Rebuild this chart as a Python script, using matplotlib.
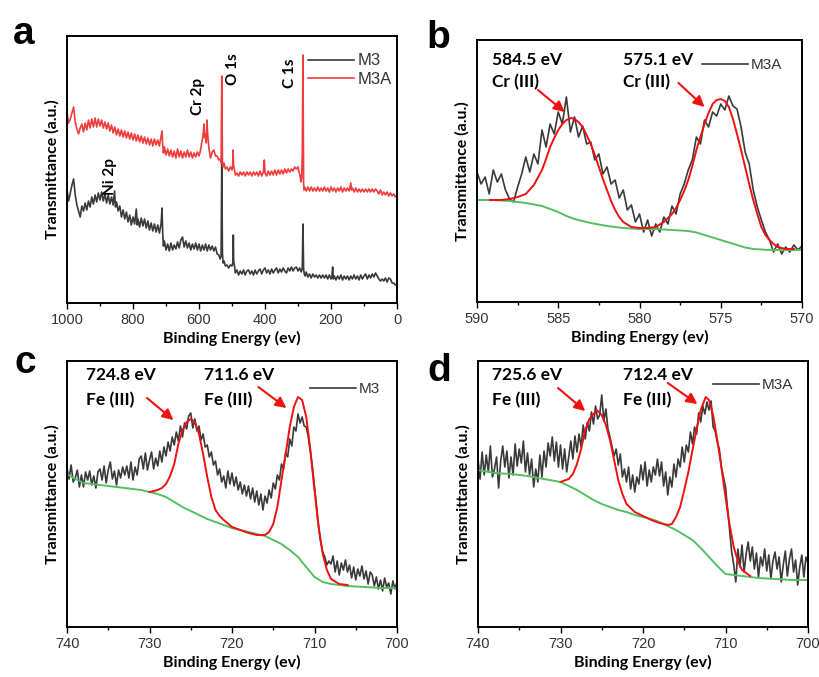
import numpy as np
import matplotlib.pyplot as plt
from matplotlib.lines import Line2D

plt.rcParams['font.family'] = ['Liberation Sans', 'DejaVu Sans']

GREY = '#3a3a3a'
RED = '#f03c3c'
FIT_RED = '#f01010'
GREEN = '#52c062'
BOLD = ['Lato', 'DejaVu Sans']

# ---------------- panel a : survey spectra (energy eV, signal a.u.)
a_m3 = [(1000, 113), (995, 102), (990, 110), (985, 118), (980, 124), (975, 108), (970, 98), (965, 92),
        (960, 86), (955, 97), (950, 92), (945, 100), (940, 93), (935, 102), (930, 96), (925, 106),
        (920, 99), (915, 108), (910, 101), (905, 110), (900, 103), (895, 111), (890, 102), (885, 109),
        (880, 100), (875, 108), (870, 99), (865, 106), (860, 98), (856, 112), (853, 96), (850, 101),
        (845, 92), (840, 97), (835, 86), (830, 93), (825, 84), (820, 91), (815, 81), (810, 88),
        (805, 78), (800, 86), (795, 79), (790, 94), (787, 78), (785, 84), (780, 76), (775, 85),
        (770, 77), (765, 84), (760, 75), (755, 82), (750, 73), (745, 80), (740, 72), (735, 79),
        (730, 71), (725, 78), (720, 70), (715, 79), (712, 95), (710, 70), (708, 57), (705, 62),
        (700, 53), (695, 59), (690, 52), (685, 60), (680, 53), (675, 58), (670, 54), (665, 61),
        (660, 55), (655, 63), (650, 66), (645, 56), (640, 62), (635, 55), (630, 60), (625, 53),
        (620, 59), (615, 54), (610, 60), (605, 53), (600, 59), (595, 52), (590, 58), (585, 53),
        (580, 59), (575, 52), (570, 58), (565, 53), (560, 57), (555, 52), (550, 56), (545, 49),
        (540, 48), (536, 44), (533, 47), (531, 143), (529, 50), (527, 40), (524, 42), (520, 37),
        (515, 38), (510, 35), (505, 38), (500, 37), (497, 41), (496, 68), (495, 42), (492, 36),
        (490, 30), (485, 33), (480, 28), (475, 32), (470, 29), (465, 33), (460, 28), (455, 32),
        (450, 33), (445, 29), (440, 32), (435, 28), (430, 33), (425, 29), (420, 32), (415, 34),
        (410, 29), (405, 33), (400, 35), (395, 30), (390, 33), (385, 29), (380, 34), (375, 30),
        (370, 33), (365, 35), (360, 30), (355, 34), (350, 31), (345, 35), (340, 32), (335, 30),
        (330, 35), (325, 32), (320, 36), (315, 32), (310, 35), (305, 36), (300, 32), (295, 35),
        (290, 31), (287, 35), (285, 79), (283, 34), (281, 29), (278, 27), (275, 31), (270, 26),
        (265, 29), (260, 25), (255, 29), (250, 26), (245, 28), (240, 25), (235, 28), (230, 25),
        (225, 28), (220, 25), (215, 28), (210, 24), (205, 28), (200, 24), (197, 27), (195, 36),
        (193, 24), (190, 27), (185, 23), (180, 27), (175, 24), (170, 28), (165, 23), (160, 27),
        (155, 24), (150, 27), (145, 23), (140, 27), (135, 24), (130, 28), (125, 24), (120, 27),
        (115, 23), (110, 28), (105, 24), (100, 27), (95, 29), (90, 24), (85, 28), (80, 25),
        (75, 29), (70, 26), (65, 30), (60, 27), (55, 24), (50, 22), (45, 24), (40, 22),
        (35, 25), (30, 21), (25, 25), (20, 24), (15, 20), (10, 20), (5, 18), (0, 19)]

a_m3a = [(1000, 190), (995, 180), (990, 184), (985, 190), (980, 196), (975, 181), (970, 174), (965, 169),
         (960, 175), (955, 179), (950, 171), (945, 180), (940, 173), (935, 183), (930, 175), (925, 184),
         (920, 176), (915, 185), (910, 176), (905, 184), (900, 177), (895, 183), (890, 175), (885, 181),
         (880, 174), (875, 180), (870, 172), (865, 178), (860, 170), (855, 176), (850, 168), (845, 174),
         (840, 167), (835, 173), (830, 166), (825, 172), (820, 165), (815, 171), (810, 164), (805, 170),
         (800, 163), (795, 169), (790, 162), (785, 168), (780, 161), (775, 167), (770, 160), (765, 166),
         (760, 159), (755, 165), (750, 158), (745, 164), (740, 157), (735, 164), (730, 158), (725, 163),
         (720, 157), (715, 166), (712, 172), (710, 158), (708, 150), (705, 156), (700, 148), (695, 154),
         (690, 147), (685, 153), (680, 146), (675, 152), (670, 145), (665, 154), (660, 146), (655, 152),
         (650, 145), (645, 151), (640, 146), (635, 153), (630, 146), (625, 151), (620, 145), (615, 150),
         (610, 146), (605, 151), (600, 147), (595, 153), (592, 160), (590, 163), (587, 170), (585, 179),
         (583, 165), (580, 169), (578, 160), (576, 183), (574, 170), (572, 163), (570, 155), (567, 149),
         (565, 145), (560, 151), (555, 153), (550, 147), (545, 147), (540, 143), (535, 144), (533, 140),
         (531, 227), (529, 141), (527, 136), (524, 140), (520, 134), (515, 136), (510, 132), (505, 136),
         (500, 133), (498, 138), (497, 153), (495, 137), (493, 134), (490, 128), (485, 130), (480, 127),
         (475, 131), (470, 128), (465, 131), (460, 127), (455, 131), (450, 128), (445, 131), (440, 127),
         (435, 131), (430, 128), (425, 131), (420, 127), (415, 132), (410, 127), (405, 131), (402, 143),
         (400, 130), (395, 127), (390, 132), (385, 128), (380, 132), (375, 128), (370, 133), (365, 128),
         (360, 133), (355, 129), (350, 133), (345, 129), (340, 134), (335, 130), (330, 134), (325, 131),
         (320, 134), (315, 132), (310, 136), (305, 134), (300, 136), (297, 131), (294, 128), (291, 121),
         (289, 125), (287, 149), (285, 248), (283, 120), (282, 113), (280, 116), (275, 112), (270, 116),
         (265, 112), (260, 116), (255, 112), (250, 115), (245, 112), (240, 116), (235, 112), (230, 115),
         (225, 112), (220, 116), (215, 112), (210, 115), (205, 111), (200, 116), (195, 112), (190, 115),
         (185, 111), (180, 115), (175, 112), (170, 116), (165, 111), (160, 115), (155, 112), (150, 115),
         (145, 112), (140, 120), (138, 113), (135, 115), (130, 111), (125, 115), (120, 111), (115, 114),
         (110, 111), (105, 114), (100, 111), (95, 114), (90, 111), (85, 114), (80, 111), (75, 114),
         (70, 111), (65, 114), (60, 112), (55, 109), (50, 113), (45, 108), (40, 111), (35, 108),
         (30, 111), (25, 107), (20, 110), (15, 107), (10, 109), (5, 106), (0, 108)]

a_peaks = [('Ni 2p', 870, 108), ('Cr 2p', 603, 188), ('O 1s', 497, 218), ('C 1s', 324, 215)]

# ---------------- panel b : Cr 2p (M3A), 590 -> 570 eV, step 0.25
b_e = np.linspace(590, 570, 81)
b_m3a = [130, 118, 125, 108, 132, 120, 128, 112, 103, 100, 115, 128, 145, 130, 148, 138,
         172, 155, 178, 168, 190, 178, 205, 170, 185, 165, 176, 158, 160, 142, 148, 128,
         135, 118, 122, 104, 112, 92, 97, 80, 88, 70, 82, 66, 78, 70, 85, 78,
         96, 88, 108, 118, 132, 142, 165, 158, 182, 175, 190, 186, 198, 192, 206, 196,
         193, 175, 150, 138, 112, 95, 82, 70, 62, 50, 58, 48, 55, 50, 57, 52, 56]
b_fit = [(589.2, 102), (588.5, 102), (588, 103), (587.5, 105), (587, 108), (586.5, 117), (586, 132),
         (585.75, 143), (585.5, 155), (585.25, 164), (585, 172), (584.75, 178), (584.5, 182),
         (584.2, 184), (584, 183), (583.75, 180), (583.5, 175), (583.25, 167), (583, 158),
         (582.75, 147), (582.5, 135), (582.25, 123), (582, 112), (581.75, 101), (581.5, 92),
         (581.25, 85), (581, 80), (580.5, 75), (580, 74), (579.5, 74), (579, 75), (578.5, 80),
         (578, 88), (577.75, 94), (577.5, 102), (577.25, 111), (577, 122), (576.75, 136),
         (576.5, 152), (576.25, 165), (576, 178), (575.75, 189), (575.5, 198), (575.25, 202),
         (575, 203), (574.75, 201), (574.5, 195), (574.25, 183), (574, 168), (573.75, 152),
         (573.5, 135), (573.25, 118), (573, 102), (572.75, 88), (572.5, 75), (572.25, 67),
         (572, 62), (571.75, 58), (571.5, 55), (571, 53), (570.5, 53)]
b_base = [(590, 102), (589, 102), (588, 101), (587, 99), (586, 96), (585.5, 93), (585, 90),
          (584.5, 86), (584, 83), (583, 79), (582, 76), (581, 74), (580, 73), (579, 73),
          (578, 72), (577, 71), (576.5, 69.5), (576, 67), (575.5, 64.5), (575, 62), (574.5, 59.5),
          (574, 57), (573.5, 54.5), (573, 53), (572, 52), (571, 52), (570, 52)]
b_notes = [('584.5 eV\nCr (III)', 589.1, (586.25, 212), (584.6, 190)),
           ('575.1 eV\nCr (III)', 581.0, (577.6, 219), (576.0, 195))]

# ---------------- panel c : Fe 2p (M3), 740 -> 700 eV, step 0.25
c_e = np.linspace(740, 700, 161)
c_m3 = [159, 148, 162, 145, 149, 157, 140, 152, 140, 155, 147, 156, 142, 151, 139, 155,
        158, 147, 161, 144, 157, 165, 148, 156, 142, 157, 149, 160, 152, 161, 149, 165,
        147, 160, 152, 168, 171, 158, 174, 157, 167, 175, 158, 169, 161, 176, 165, 180,
        171, 185, 176, 190, 182, 195, 186, 201, 190, 204, 198, 211, 214, 199, 208, 196,
        201, 187, 193, 180, 182, 170, 175, 162, 166, 152, 158, 145, 151, 139, 156, 143,
        154, 141, 150, 137, 145, 133, 142, 131, 141, 128, 139, 125, 136, 122, 133, 117,
        131, 124, 137, 129, 144, 138, 152, 147, 163, 158, 174, 170, 188, 181, 200, 196,
        213, 204, 210, 201, 200, 190, 175, 160, 140, 120, 100, 85, 75, 70, 62, 66,
        63, 71, 55, 66, 52, 64, 57, 67, 55, 62, 49, 60, 47, 58, 51, 61,
        48, 56, 43, 55, 52, 41, 50, 38, 47, 36, 49, 40, 44, 33, 46, 38, 45]
c_fit = [(730, 135), (729, 137), (728.5, 139), (728, 143), (727.5, 151), (727, 163), (726.5, 183),
         (726, 197), (725.5, 205), (725, 208), (724.5, 205), (724, 193), (723.5, 173), (723, 150),
         (722.5, 130), (722, 117), (721.5, 111), (721, 107), (720, 100), (719, 97), (718, 94),
         (717, 92), (716, 92), (715.5, 95), (715, 103), (714.5, 120), (714, 147), (713.5, 173),
         (713, 200), (712.5, 220), (712, 230), (711.5, 227), (711, 210), (710.5, 177), (710, 137),
         (709.5, 100), (709, 73), (708.5, 57), (708, 48), (707, 43), (706, 42)]
c_base = [(740, 153), (739, 148), (738, 144), (737, 143), (736, 142), (735, 141), (734, 140),
          (733, 139), (732, 138), (731, 137), (730, 135), (729, 133), (728, 130), (727, 125),
          (726, 120), (725, 116), (724, 112), (723, 108), (722, 105), (721, 102), (720, 99),
          (719, 97), (718, 95), (717, 93), (716, 91), (715, 87), (714, 83), (713, 77), (712, 70),
          (711, 60), (710, 50), (709, 45), (708, 43), (707, 42), (706, 41), (704, 40), (702, 39),
          (700, 39)]
c_notes = [('724.8 eV\nFe (III)', 737.7, (730.3, 229), (727.1, 207)),
           ('711.6 eV\nFe (III)', 723.4, (716.8, 240), (713.4, 219))]

# ---------------- panel d : Fe 2p (M3A), 740 -> 700 eV, step 0.25
d_e = np.linspace(740, 700, 161)
d_m3a = [168, 148, 175, 152, 172, 155, 181, 150, 158, 170, 139, 166, 181, 160, 176, 149,
         170, 152, 183, 161, 178, 164, 186, 155, 174, 152, 168, 140, 158, 145, 172, 150,
         176, 160, 184, 171, 190, 166, 185, 160, 182, 158, 178, 155, 170, 186, 168, 191,
         175, 193, 180, 202, 188, 205, 196, 215, 203, 221, 208, 212, 232, 206, 218, 198,
         190, 180, 171, 178, 162, 173, 150, 158, 145, 160, 138, 152, 135, 150, 143, 162,
         147, 165, 141, 157, 145, 160, 152, 168, 151, 165, 141, 155, 132, 150, 140, 163,
         150, 168, 160, 180, 165, 182, 175, 195, 183, 200, 193, 214, 205, 221, 213, 225,
         217, 226, 200, 196, 185, 178, 160, 150, 140, 118, 95, 75, 62, 45, 78, 60,
         82, 55, 73, 85, 66, 80, 58, 74, 50, 70, 61, 78, 56, 72, 48, 66,
         75, 58, 70, 45, 62, 76, 51, 68, 78, 55, 67, 42, 60, 72, 50, 70, 64]
d_fit = [(730, 145), (729, 148), (728.5, 153), (728, 163), (727.5, 178), (727, 197), (726.5, 208),
         (726, 213), (725.6, 217), (725, 212), (724.5, 202), (724, 187), (723.5, 167), (723, 147),
         (722.5, 133), (722, 123), (721, 115), (720, 111), (719, 107), (718, 104), (717, 102),
         (716.5, 103), (716, 110), (715.5, 120), (715, 137), (714.5, 155), (714, 177), (713.5, 198),
         (713, 217), (712.4, 230), (712, 227), (711.5, 212), (711, 187), (710.5, 160), (710, 130),
         (709.5, 102), (709, 80), (708.5, 66), (708, 57), (707, 51)]
d_base = [(740, 157), (738, 154), (736, 153), (734, 151), (732, 148), (730, 145), (729, 141),
          (728, 137), (727, 132), (726, 127), (725, 123), (724, 120), (723, 117), (722, 115),
          (721, 112), (720, 110), (719, 108), (718, 105), (717, 101), (716, 97), (715, 92),
          (714, 87), (713, 79), (712, 70), (711, 61), (710, 53), (709, 52), (708, 51), (706, 49),
          (704, 48), (702, 47), (700, 47)]
d_notes = [('725.6 eV\nFe (III)', 738.3, (730.3, 239), (727.0, 216)),
           ('712.4 eV\nFe (III)', 722.4, (717.0, 244), (713.4, 223))]


def xy(pairs):
    e, v = zip(*pairs)
    return np.array(e), np.array(v)


fig = plt.figure(figsize=(8.19, 6.77), dpi=100)


def add_ax(l, t, r, b):
    return fig.add_axes([l / 819, 1 - b / 677, (r - l) / 819, (b - t) / 677]), b - t


def style(ax, h, xmax, xmin, major, minor):
    ax.set_xlim(xmax, xmin)
    ax.set_ylim(0, h)
    ax.set_yticks([])
    ax.set_xticks(np.arange(xmin, xmax + 0.1, major))
    ax.set_xticks(np.arange(xmin, xmax + 0.1, minor), minor=True)
    ax.tick_params(axis='x', which='major', direction='out', length=4, width=1,
                   labelsize=10.5, labelcolor='#333333', pad=3)
    ax.tick_params(axis='x', which='minor', direction='out', length=2.5, width=1)
    for s in ax.spines.values():
        s.set_linewidth(1.4)
    ax.set_xlabel('Binding Energy (ev)', family=BOLD, weight='bold', fontsize=11.5, labelpad=3)
    ax.set_ylabel('Transmittance (a.u.)', family=BOLD, weight='bold', fontsize=11.5, labelpad=5)


def notes(ax, items, top_y, low_y):
    for txt, x0, tail, tip in items:
        a, b = txt.split('\n')
        ax.text(x0, top_y, a, family=BOLD, weight='bold', fontsize=12.5, va='center', ha='left')
        ax.text(x0, low_y, b, family=BOLD, weight='bold', fontsize=12.5, va='center', ha='left')
        ax.annotate('', xy=tip, xytext=tail,
                    arrowprops=dict(arrowstyle='-|>', color=FIT_RED, lw=1.5, mutation_scale=16,
                                    shrinkA=0, shrinkB=0))


def one_legend(ax, label, anchor):
    h = [Line2D([], [], color=GREY, lw=1.2)]
    ax.legend(h, [label], loc='upper right', bbox_to_anchor=anchor, frameon=False, fontsize=11,
              handlelength=3.0, handletextpad=0.2, borderpad=0, borderaxespad=0,
              labelcolor='#333333')


# panel a
axa, ha = add_ax(67, 36, 397, 303)
e, v = xy(a_m3)
axa.plot(e, v, color=GREY, lw=1.2, label='M3')
e, v = xy(a_m3a)
axa.plot(e, v, color=RED, lw=1.2, label='M3A')
style(axa, ha, 1000, 0, 200, 100)
for lab, x0, y0 in a_peaks:
    axa.text(x0, y0, lab, rotation=90, family=BOLD, weight='bold', fontsize=11,
             ha='center', va='bottom')
axa.legend(loc='upper right', bbox_to_anchor=(0.985, 0.935), frameon=False, fontsize=12,
           handlelength=2.8, handletextpad=0.2, labelspacing=0.2, borderpad=0, borderaxespad=0,
           labelcolor='#333333')

# panel b
axb, hb = add_ax(477, 40, 802, 302)
axb.plot(b_e, b_m3a, color=GREY, lw=1.2)
e, v = xy(b_base)
axb.plot(e, v, color=GREEN, lw=1.4)
e, v = xy(b_fit)
axb.plot(e, v, color=FIT_RED, lw=1.4)
style(axb, hb, 590, 570, 5, 2.5)
notes(axb, b_notes, 242, 220)
one_legend(axb, 'M3A', (0.94, 0.93))

# panel c
axc, hc = add_ax(67, 361, 397, 627)
axc.plot(c_e, c_m3, color=GREY, lw=1.2)
e, v = xy(c_base)
axc.plot(e, v, color=GREEN, lw=1.4)
e, v = xy(c_fit)
axc.plot(e, v, color=FIT_RED, lw=1.4)
style(axc, hc, 740, 700, 10, 5)
notes(axc, c_notes, 252, 227)
one_legend(axc, 'M3', (0.95, 0.92))

# panel d
axd, hd = add_ax(478, 361, 808, 627)
axd.plot(d_e, d_m3a, color=GREY, lw=1.2)
e, v = xy(d_base)
axd.plot(e, v, color=GREEN, lw=1.4)
e, v = xy(d_fit)
axd.plot(e, v, color=FIT_RED, lw=1.4)
style(axd, hd, 740, 700, 10, 5)
notes(axd, d_notes, 252, 227)
one_legend(axd, 'M3A', (0.955, 0.935))

# panel letters
for letter, x0, y0 in [('a', 13, 44), ('b', 426, 48), ('c', 14, 373), ('d', 427, 381)]:
    fig.text(x0 / 819, 1 - y0 / 677, letter, fontsize=28, weight='bold', va='baseline', ha='left')

fig.savefig('out.png', dpi=100)
